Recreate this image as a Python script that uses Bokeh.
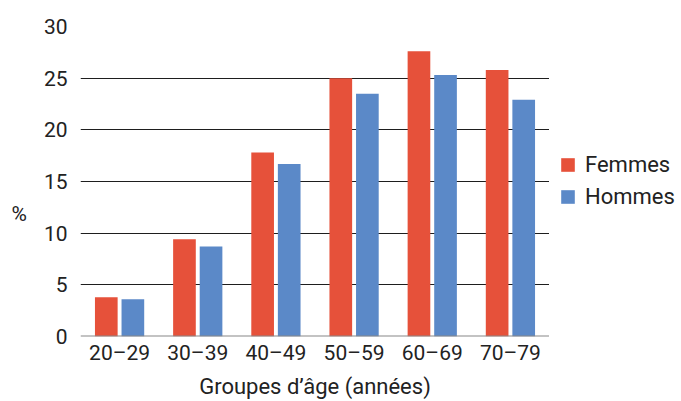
from bokeh.plotting import figure
from bokeh.models import ColumnDataSource, FactorRange, Legend, LegendItem
from bokeh.layouts import row
from bokeh.transform import dodge
from bokeh.embed import file_html
from bokeh.resources import INLINE

categories = ["20–29", "30–39", "40–49", "50–59", "60–69", "70–79"]
femmes = [3.8, 9.4, 17.8, 25.0, 27.6, 25.8]
hommes = [3.6, 8.7, 16.7, 23.5, 25.3, 22.9]
y_ticks = [0, 5, 10, 15, 20, 25, 30]
series_names = ["Femmes", "Hommes"]
x_title = "Groupes d’âge (années)"
y_title = "%"

RED = "#E6513A"
BLUE = "#5B89C8"
FONT = "Roboto"
TXT = "#222222"

src = ColumnDataSource(dict(cat=categories, femmes=femmes, hommes=hommes))

p = figure(
    x_range=FactorRange(*categories), y_range=(0, 30),
    width=549, height=401, output_backend="svg", toolbar_location=None,
    min_border_left=80, min_border_right=0, min_border_top=26, min_border_bottom=64,
)
p.outline_line_color = None
p.background_fill_color = "white"

r1 = p.vbar(x=dodge("cat", -0.17, range=p.x_range), top="femmes", width=0.29,
            source=src, fill_color=RED, line_color=None)
r2 = p.vbar(x=dodge("cat", 0.17, range=p.x_range), top="hommes", width=0.29,
            source=src, fill_color=BLUE, line_color=None)

# baseline
p.hspan(y=[0], line_color="#888888", line_width=2)

p.xgrid.grid_line_color = None
p.ygrid.grid_line_color = "#1e1e1e"
p.ygrid.grid_line_width = 1
p.yaxis.ticker = y_ticks

for ax in (p.xaxis[0], p.yaxis[0]):
    ax.axis_line_color = None
    ax.major_tick_line_color = None
    ax.minor_tick_line_color = None
    ax.major_tick_out = 0
    ax.major_tick_in = 0
    ax.minor_tick_out = 0
    ax.minor_tick_in = 0
    ax.major_label_text_font = FONT
    ax.major_label_text_font_size = "21px"
    ax.major_label_text_color = TXT
    ax.axis_label_text_font = FONT
    ax.axis_label_text_font_size = "22px"
    ax.axis_label_text_font_style = "normal"
    ax.axis_label_text_color = TXT

p.yaxis.major_label_standoff = 13
p.xaxis.major_label_standoff = 4
p.xaxis.major_label_text_line_height = 0.8
p.xaxis.axis_label = x_title
p.xaxis.axis_label_standoff = 6
p.xaxis.axis_label_text_line_height = 0.75
p.yaxis.axis_label = "\n\n\n" + y_title
p.yaxis.axis_label_orientation = "horizontal"
p.yaxis.axis_label_text_line_height = 0.9
p.yaxis.axis_label_text_font_size = "21px"
p.yaxis.axis_label_standoff = 14

# legend panel (legend-only figure; its glyphs hold no drawable positions)
nan = float("nan")
leg_src = ColumnDataSource(dict(x=[nan], top=[nan]))
lg = figure(width=132, height=401, output_backend="svg", toolbar_location=None,
            x_range=(0, 1), y_range=(0, 1),
            x_axis_location=None, y_axis_location=None,
            min_border_left=0, min_border_right=0, min_border_top=26, min_border_bottom=64)
lg.outline_line_color = None
lg.xgrid.grid_line_color = None
lg.ygrid.grid_line_color = None
l1 = lg.vbar(x="x", top="top", width=0.3, source=leg_src, fill_color=RED, line_color=None)
l2 = lg.vbar(x="x", top="top", width=0.3, source=leg_src, fill_color=BLUE, line_color=None)

legend = Legend(items=[LegendItem(label=series_names[0], renderers=[l1]),
                       LegendItem(label=series_names[1], renderers=[l2])],
                location=(10, 127), orientation="vertical")
legend.border_line_color = None
legend.background_fill_alpha = 0
legend.margin = 0
legend.padding = 0
legend.glyph_width = 17
legend.glyph_height = 17
legend.label_height = 20
legend.spacing = 7
legend.label_standoff = 9
legend.label_text_font = FONT
legend.label_text_font_size = "22px"
legend.label_text_color = TXT
lg.add_layout(legend)

layout = row(p, lg, spacing=0)
open("out.html", "w").write(file_html(layout, INLINE))
